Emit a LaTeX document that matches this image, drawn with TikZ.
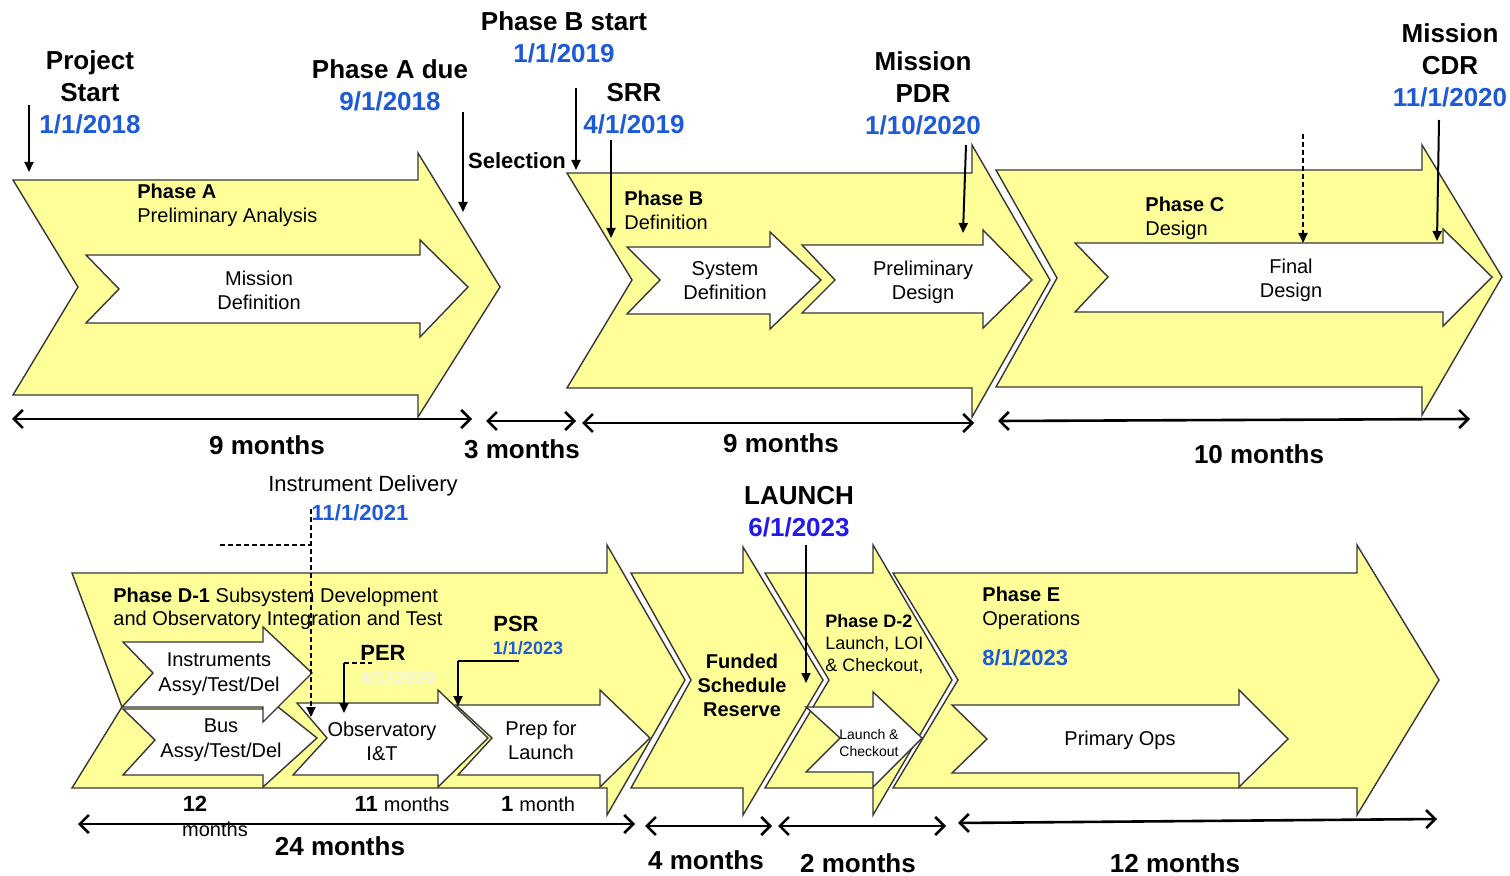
\documentclass[tikz,border=0pt]{standalone}
\usepackage{fontspec}
\setmainfont{Liberation Sans}
\usetikzlibrary{arrows.meta}
\definecolor{phy}{RGB}{255,255,153}
\definecolor{edgec}{RGB}{55,55,55}
\definecolor{dblue}{RGB}{30,90,215}
\definecolor{lblue}{RGB}{35,25,235}
\definecolor{faint}{RGB}{245,245,225}
\begin{document}
\begin{tikzpicture}[x=0.5pt,y=-0.5pt,
  phase/.style={fill=phy,draw=edgec,line width=0.7pt,line join=miter},
  sub/.style={fill=white,draw=edgec,line width=0.7pt,line join=miter},
  ms/.style={-{Triangle[length=5pt,width=4.5pt]},line width=1pt},
  msdash/.style={ms,dash pattern=on 2.5pt off 1.5pt},
  thindash/.style={line width=0.8pt,dash pattern=on 2.5pt off 1.5pt},
  dur/.style={{Straight Barb[length=4.5pt,width=9pt]}-{Straight Barb[length=4.5pt,width=9pt]},line width=1.3pt},
  big/.style={font=\fontsize{13}{16}\selectfont\bfseries,align=center,inner sep=0pt},
  txt/.style={font=\fontsize{10}{12}\selectfont,align=center,inner sep=0pt},
  ltxt/.style={font=\fontsize{10}{12}\selectfont,align=left,inner sep=0pt,anchor=west},
  mid/.style={font=\fontsize{11}{13}\selectfont,inner sep=0pt,align=center}
]
\useasboundingbox (0,0) rectangle (1510,876);

% ---------------- top row chevrons ----------------
\path[phase] (13,180) -- (418,180) -- (418,153) -- (500,287) -- (418,417) -- (418,395) -- (13,395) -- (78,287) -- cycle;
\path[sub] (86,255) -- (420,255) -- (420,240) -- (468,287) -- (420,337) -- (420,323) -- (86,323) -- (119,289) -- cycle;

\path[phase] (567,173) -- (972,173) -- (972,145) -- (1050,280) -- (972,417) -- (972,388) -- (567,388) -- (632,280) -- cycle;
\path[sub] (627,247) -- (770,247) -- (770,232) -- (821,280) -- (770,329) -- (770,314) -- (627,314) -- (660,280) -- cycle;
\path[sub] (802,245) -- (983,245) -- (983,230) -- (1032,280) -- (983,328) -- (983,313) -- (802,313) -- (835,280) -- cycle;

\path[phase] (996,170) -- (1422,170) -- (1422,145) -- (1502,277) -- (1422,415) -- (1422,387) -- (996,387) -- (1057,278) -- cycle;
\path[sub] (1075,243) -- (1443,243) -- (1443,229) -- (1492,277) -- (1443,326) -- (1443,312) -- (1075,312) -- (1108,277) -- cycle;

% ---------------- bottom row chevrons ----------------
\path[phase] (72,573) -- (607,573) -- (607,545) -- (685,680) -- (607,815) -- (607,788) -- (72,788) -- (122,707) -- cycle;
\path[phase] (631,573) -- (743,573) -- (743,547) -- (823,680) -- (743,815) -- (743,788) -- (631,788) -- (691,680) -- cycle;
\path[phase] (765,573) -- (873,573) -- (873,545) -- (952,680) -- (873,815) -- (873,788) -- (765,788) -- (829,680) -- cycle;
\path[phase] (893,573) -- (1357,573) -- (1357,545) -- (1439,680) -- (1357,815) -- (1357,788) -- (893,788) -- (958,680) -- cycle;

\path[sub] (123,709) -- (263,709) -- (263,695) -- (317,738) -- (263,787) -- (263,775) -- (123,775) -- (155,740) -- cycle;
\path[sub] (123,642) -- (263,642) -- (263,627) -- (312,673) -- (263,722) -- (263,707) -- (122,707) -- (153,673) -- cycle;
\path[sub] (297,703) -- (438,703) -- (438,690) -- (488,738) -- (438,787) -- (438,775) -- (293,775) -- (327,738) -- cycle;
\path[sub] (456,705) -- (600,705) -- (600,690) -- (650,738) -- (600,787) -- (600,775) -- (458,775) -- (492,738) -- cycle;
\path[sub] (806,707) -- (873,707) -- (873,692) -- (922,738) -- (873,787) -- (873,772) -- (806,772) -- (840,738) -- cycle;
\path[sub] (952,705) -- (1239,705) -- (1239,690) -- (1288,739) -- (1239,787) -- (1239,773) -- (952,773) -- (987,739) -- cycle;

% ---------------- top labels ----------------
\node[big] (ps) at (90,92) {Project\\Start\\\textcolor{dblue}{1/1/2018}};
\node[big] (pad) at (390,85) {Phase A due\\\textcolor{dblue}{9/1/2018}};
\node[big] (pbs) at (564,37) {Phase B start\\\textcolor{dblue}{1/1/2019}};
\node[big] (srr) at (634,109) {SRR\\\textcolor{dblue}{4/1/2019}};
\node[big] (pdr) at (923,93) {Mission\\PDR\\\textcolor{dblue}{1/10/2020}};
\node[big] (cdr) at (1450,65) {Mission\\CDR\\\textcolor{dblue}{11/1/2020}};
\node[font=\fontsize{11}{13}\selectfont\bfseries,inner sep=0pt] (sel) at (517,161) {Selection};

\node[ltxt] (pa) at (137,205) {\textbf{Phase A}\\Preliminary Analysis};
\node[ltxt] (pb) at (624,210) {\textbf{Phase B}\\Definition};
\node[ltxt] (pc) at (1145,218) {\textbf{Phase C}\\Design};
\node[txt] (md) at (259,290) {Mission\\Definition};
\node[txt] (sd) at (725,281) {System\\Definition};
\node[txt] (pd) at (923,282) {Preliminary\\Design};
\node[txt] (fd) at (1291,280) {Final\\Design};

% milestone arrows (top)
\coordinate (a1s) at (29,105);   \coordinate (a1e) at (29,172);
\coordinate (a2s) at (463,112);  \coordinate (a2e) at (463,212);
\coordinate (a3s) at (576,88);   \coordinate (a3e) at (576,170);
\coordinate (a4s) at (611,140);  \coordinate (a4e) at (611,238);
\coordinate (a5s) at (966,145);  \coordinate (a5e) at (963,233);
\coordinate (a6s) at (1303,134); \coordinate (a6e) at (1303,243);
\coordinate (a7s) at (1439,120); \coordinate (a7e) at (1437,241);
\draw[ms] (a1s) -- (a1e);
\draw[ms] (a2s) -- (a2e);
\draw[ms] (a3s) -- (a3e);
\draw[ms] (a4s) -- (a4e);
\draw[ms] (a5s) -- (a5e);
\draw[msdash] (a6s) -- (a6e);
\draw[ms] (a7s) -- (a7e);

% durations (top)
\coordinate (d1a) at (12,419);  \coordinate (d1b) at (472,419);
\coordinate (d2a) at (486,421); \coordinate (d2b) at (576,421);
\coordinate (d3a) at (582,423); \coordinate (d3b) at (974,423);
\coordinate (d4a) at (998,421); \coordinate (d4b) at (1470,419);
\draw[dur] (d1a) -- (d1b);
\draw[dur] (d2a) -- (d2b);
\draw[dur] (d3a) -- (d3b);
\draw[dur] (d4a) -- (d4b);
\node[big] (m1) at (267,445) {9 months};
\node[big] (m2) at (522,449) {3 months};
\node[big] (m3) at (781,443) {9 months};
\node[big] (m4) at (1259,454) {10 months};

% ---------------- bottom labels ----------------
\node[font=\fontsize{11}{13}\selectfont,inner sep=0pt] (idl) at (363,486) {Instrument Delivery};
\node[font=\fontsize{11}{13}\selectfont\bfseries,text=dblue,inner sep=0pt] (idd) at (360,513) {11/1/2021};
\node[big] (lau) at (799,512) {LAUNCH\\\textcolor{lblue}{6/1/2023}};

\node[ltxt,font=\fontsize{10}{11.5}\selectfont] (pd1) at (113,609) {\textbf{Phase D-1} Subsystem Development\\and Observatory Integration and Test};
\node[txt,font=\fontsize{10}{12.5}\selectfont] (ins) at (219,674) {Instruments\\Assy/Test/Del};
\node[txt,font=\fontsize{10}{12.5}\selectfont] (bus) at (221,740) {Bus\\Assy/Test/Del};
\node[txt] (obs) at (382,741) {Observatory\\I\&T};
\node[txt] (prep) at (541,740) {Prep for\\Launch};
\node[font=\fontsize{11}{13}\selectfont\bfseries,inner sep=0pt] (per) at (383,653) {PER};
\node[font=\fontsize{9}{11}\selectfont\bfseries,text=faint,inner sep=0pt] (perd) at (398,678) {4/1//2020};
\node[font=\fontsize{11}{13}\selectfont\bfseries,inner sep=0pt] (psr) at (516,624) {PSR};
\node[font=\fontsize{9}{11}\selectfont\bfseries,text=dblue,inner sep=0pt] (psrd) at (528,648) {1/1/2023};

\node[txt,font=\fontsize{10}{12}\selectfont\bfseries] (fsr) at (742,685) {Funded\\Schedule\\Reserve};
\node[ltxt,font=\fontsize{9}{11}\selectfont] (pd2) at (825,644) {\textbf{Phase D-2}\\Launch, LOI\\\& Checkout,};
\node[txt,font=\fontsize{7}{8.5}\selectfont] (lc) at (869,743) {Launch \&\\Checkout};
\node[ltxt] (pe) at (982,608) {\textbf{Phase E}\\Operations};
\node[anchor=west,font=\fontsize{11}{13}\selectfont\bfseries,text=dblue,inner sep=0pt] (ped) at (982,658) {8/1/2023};
\node[txt] (po) at (1120,740) {Primary Ops};

% bottom milestone connectors
\coordinate (id1) at (311,509); \coordinate (id2) at (311,717);
\coordinate (idh) at (220,545); \coordinate (idm) at (311,545);
\draw[msdash] (id1) -- (id2);
\draw[thindash] (idh) -- (idm);
\coordinate (pe1) at (344,663); \coordinate (pe2) at (344,713); \coordinate (pe0) at (372,663);
\draw[ms] (pe1) -- (pe2);
\draw[thindash] (pe1) -- (pe0);
\coordinate (ps0) at (519,661); \coordinate (ps1) at (458,661); \coordinate (ps2) at (458,706);
\draw[line width=0.7pt] (ps0) -- (ps1);
\draw[ms] (ps1) -- (ps2);
\coordinate (l1) at (806,545); \coordinate (l2) at (806,683);
\draw[ms] (l1) -- (l2);

% month labels bottom
\node[font=\fontsize{11}{13}\selectfont\bfseries,inner sep=0pt] (t12) at (195,804) {12};
\node[font=\fontsize{10}{12}\selectfont,inner sep=0pt] (t12m) at (215,829) {months};
\node[font=\fontsize{10}{12}\selectfont,inner sep=0pt] (t11) at (402,804) {\fontsize{11}{13}\selectfont\textbf{11} \fontsize{10}{12}\selectfont months};
\node[font=\fontsize{10}{12}\selectfont,inner sep=0pt] (t1) at (538,804) {\fontsize{11}{13}\selectfont\textbf{1} \fontsize{10}{12}\selectfont month};

% durations (bottom)
\coordinate (e1a) at (78,824);  \coordinate (e1b) at (635,824);
\coordinate (e2a) at (645,826); \coordinate (e2b) at (772,826);
\coordinate (e3a) at (778,826); \coordinate (e3b) at (946,826);
\coordinate (e4a) at (958,823); \coordinate (e4b) at (1437,819);
\draw[dur] (e1a) -- (e1b);
\draw[dur] (e2a) -- (e2b);
\draw[dur] (e3a) -- (e3b);
\draw[dur] (e4a) -- (e4b);
\node[big] (n1) at (340,846) {24 months};
\node[big] (n2) at (706,860) {4 months};
\node[big] (n3) at (858,863) {2 months};
\node[big] (n4) at (1175,863) {12 months};
\end{tikzpicture}
\end{document}
